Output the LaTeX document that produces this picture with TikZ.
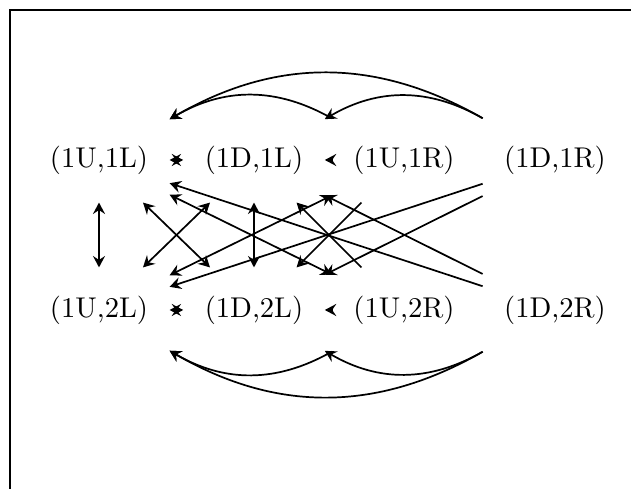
\documentclass[tikz,border=0pt]{standalone}
\usetikzlibrary{arrows.meta}
\begin{document}
\begin{tikzpicture}[x=0.35pt,y=-0.35pt,
  >={Stealth[length=4pt,width=4.2pt,inset=1.4pt]},
  state/.style={rectangle, inner xsep=7.35pt, inner ysep=0pt, minimum height=29.4pt},
  conn/.style={line width=0.6pt},
  frameline/.style={line width=0.7pt}]
\useasboundingbox (0,0) rectangle (631,489);
\draw[frameline] (10,500) -- (10,10) -- (640,10);
% nodes
\node[state] (u1l) at (99,160) {(1U,1L)};
\node[state] (d1l) at (254,160) {(1D,1L)};
\node[state] (u1r) at (404,160) {(1U,1R)};
\node[state] (d1r) at (555,160) {(1D,1R)};
\node[state] (u2l) at (99,310) {(1U,2L)};
\node[state] (d2l) at (254,310) {(1D,2L)};
\node[state] (u2r) at (404,310) {(1U,2R)};
\node[state] (d2r) at (555,310) {(1D,2R)};
% horizontal
\draw[conn,<->] (u1l) -- (d1l);
\draw[conn,->] (u1r) -- (d1l);
\draw[conn,<->] (u2l) -- (d2l);
\draw[conn,->] (u2r) -- (d2l);
% vertical
\draw[conn,<->] (u1l) -- (u2l);
\draw[conn,<->] (d1l) -- (d2l);
% crossings
\draw[conn,<->] (u1l) -- (d2l);
\draw[conn,<->] (u2l) -- (d1l);
\draw[conn,->] (u2r) -- (d1l);
\draw[conn,->] (u1r) -- (d2l);
\draw[conn,<->] (u1l) -- (u2r);
\draw[conn,<->] (u2l) -- (u1r);
\draw[conn,->] (d2r) -- (u1l);
\draw[conn,->] (d1r) -- (u2l);
\draw[conn,->] (d1r) -- (d2l);
\draw[conn,->] (d2r) -- (d1l);
% arcs
\draw[conn,->] (d1r) to[bend right=30] (u1l);
\draw[conn,->] (u1r) to[bend right=30] (u1l);
\draw[conn,->] (d1r) to[bend right=30] (d1l);
\draw[conn,->] (d2r) to[bend left=30] (u2l);
\draw[conn,->] (u2r) to[bend left=30] (u2l);
\draw[conn,->] (d2r) to[bend left=30] (d2l);
\end{tikzpicture}
\end{document}
